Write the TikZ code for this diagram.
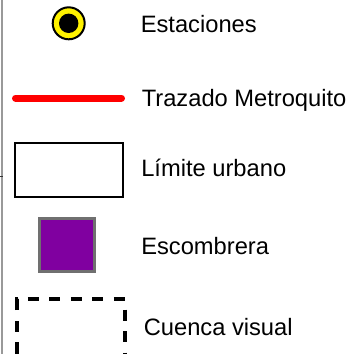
\documentclass[tikz,border=0pt]{standalone}
\usepackage{fontspec}
\setmainfont{Liberation Sans}
\usepackage{tikz}
\usetikzlibrary{positioning}

\definecolor{escpurple}{RGB}{128,0,160}
\definecolor{escgray}{RGB}{112,112,112}

\begin{document}
\begin{tikzpicture}[x=1pt,y=-1pt,semithick]
\tikzstyle{symbol}=[inner sep=0pt,outer sep=0pt]
\tikzstyle{label}=[anchor=base west,inner sep=0pt,text=black]
\tikzset{font=\fontsize{23.7pt}{28}\selectfont}

        \useasboundingbox (0,0) rectangle (351,354);

        % left frame edge
        \coordinate (ftop) at (2,0);
        \coordinate (fbot) at (2,354);
        \draw[gray!80,line width=1.5pt] (ftop) -- (fbot);
        \coordinate (tk1) at (0,176);
        \coordinate (tk2) at (3,176);
        \draw[black!80,line width=1pt] (tk1) -- (tk2);

        % symbols
        \node[symbol,circle,fill=yellow,draw=black,line width=2pt,minimum size=32pt]   (est) at (68.7,23.3) {};
        \node[symbol,circle,fill=black,minimum size=19.4pt]                            (estc) at (est.center) {};

        \coordinate (tr1) at (15.5,98);
        \coordinate (tr2) at (121.5,98);
        \draw[red,line width=7pt,line cap=round] (tr1) -- (tr2);

        \node[symbol,rectangle,draw=black,line width=2pt,minimum width=108pt,minimum height=54pt]   (lim) at (68.5,169.5) {};
        \node[symbol,rectangle,fill=escpurple,draw=escgray,line width=3pt,minimum width=55pt,minimum height=53pt]   (esc) at (67,245) {};

        \coordinate (cst) at (17,353);
        \coordinate (ctl) at (17,299.3);
        \coordinate (ctr) at (125,299.3);
        \coordinate (cbr) at (125,355.5);
        \coordinate (cbl) at (17,355.5);
        \draw[black,line width=4pt,dash pattern=on 11pt off 10.5pt] (cst) -- (ctl) -- (ctr) -- (cbr) -- (cbl) -- (cst);

        % labels
        \node[label] (lest) at (140.5,32)  {Estaciones};
        \node[label] (ltr)  at (141.5,106) {Trazado Metroquito};
        \node[label] (llim) at (141,176)   {Límite urbano};
        \node[label] (lesc) at (141,254)   {Escombrera};
        \node[label] (lcue) at (143.5,335) {Cuenca visual};

\end{tikzpicture}
\end{document}
